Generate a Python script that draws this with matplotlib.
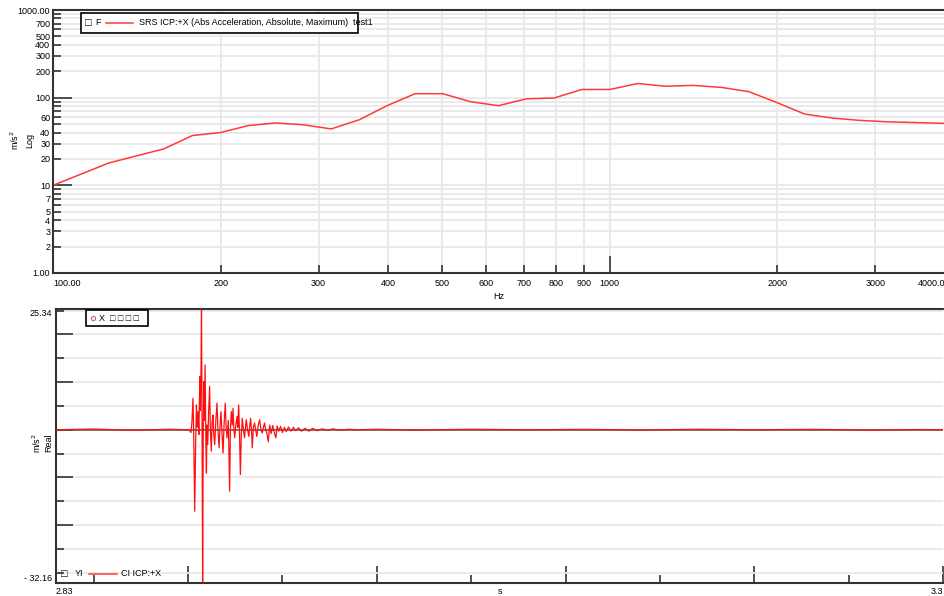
from matplotlib import pyplot as plt
from matplotlib.patches import Rectangle
from matplotlib.lines import Line2D

plt.rcParams['font.family'] = ['Liberation Sans', 'DejaVu Sans']

# SRS spectrum (top)
srs_freq = [100, 126, 158, 178, 200, 224, 251, 282, 316, 355, 398, 447, 501, 562,
            631, 708, 794, 891, 1000, 1122, 1259, 1413, 1585, 1778, 1995, 2239,
            2512, 2818, 3162, 3548, 3981]
srs_val = [10, 18, 26, 37, 40, 48, 51.5, 49, 44, 56, 81, 111, 111, 90,
           81, 97, 99, 124, 124, 145, 135, 138, 131, 117, 88, 65,
           58.5, 55, 53, 52, 51]

y_major = [1, 2, 3, 4, 5, 7, 10, 20, 30, 40, 60, 100, 200, 300, 400, 500, 700, 1000]
y_major_lbl = ['1.00', '2', '3', '4', '5', '7', '10', '20', '30', '40', '60',
               '100', '200', '300', '400', '500', '700', '1000.00']
y_minor = [6, 8, 9, 50, 70, 80, 90, 600, 800, 900]
x_major = [100, 200, 300, 400, 500, 600, 700, 800, 900, 1000, 2000, 3000, 4000]
x_major_lbl = ['100.00', '200', '300', '400', '500', '600', '700', '800', '900',
               '1000', '2000', '3000', '4000.0']

# time signal (bottom)
sig_t = [2.830, 2.850, 2.870, 2.890, 2.9005, 2.9015, 2.9020, 2.9026, 2.9030, 2.9035,
         2.9040, 2.9044, 2.9048, 2.9053, 2.9057, 2.9062, 2.9065, 2.9068, 2.9071, 2.9074,
         2.9077, 2.9080, 2.9083, 2.9086, 2.9090, 2.9094, 2.9097, 2.9100, 2.9104, 2.9109,
         2.9114, 2.9118, 2.9123, 2.9127, 2.9132, 2.9136, 2.9141, 2.9147, 2.9153, 2.9158,
         2.9164, 2.9169, 2.9174, 2.9180, 2.9185, 2.9191, 2.9197, 2.9201, 2.9206, 2.9213,
         2.9220, 2.9224, 2.9229, 2.9234, 2.9238, 2.9242, 2.9247, 2.9253, 2.9259, 2.9263,
         2.9268, 2.9272, 2.9277, 2.9282, 2.9287, 2.9293, 2.9299, 2.9304, 2.9308, 2.9315,
         2.9322, 2.9327, 2.9331, 2.9336, 2.9340, 2.9346, 2.9352, 2.9358, 2.9364, 2.9371,
         2.9379, 2.9386, 2.9393, 2.9399, 2.9405, 2.9411, 2.9417, 2.9425, 2.9432, 2.9440,
         2.9448, 2.9456, 2.9465, 2.9472, 2.9480, 2.9490, 2.9500, 2.9510, 2.9520, 2.9532,
         2.9545, 2.9558, 2.9570, 2.9585, 2.9600, 2.9620, 2.9640, 2.9660, 2.9685, 2.9710,
         2.9740, 2.9770, 2.9800, 2.9850, 2.9900, 3.0000, 3.0200, 3.0500, 3.0800, 3.1100,
         3.1400, 3.1700, 3.2000, 3.2300, 3.2600, 3.2900, 3.3000]
sig_v = [0.0, 0.15, -0.1, 0.1, 0.0, -0.6, 1.5, 6.6, -2.0, -17.1,
         -3.0, 5.2, 0.5, 3.8, -1.0, 11.2, 4.0, 11.5, 25.34, 0.0,
         -32.16, -2.0, 10.1, 2.0, 13.6, -2.0, -9.1, 1.0, -3.1, 4.0,
         9.1, 0.0, -4.5, 1.5, 3.1, -1.0, -3.1, 2.0, 5.6, 0.0,
         -3.8, 0.5, 3.8, -1.0, -4.9, 1.5, 5.6, 1.0, -1.7, 2.0,
         -12.9, 0.0, 3.8, 1.0, 4.5, 0.5, -1.7, 1.0, 2.8, 0.5,
         5.2, 0.0, -9.4, -1.0, 2.4, 0.0, -1.7, 0.5, 2.1, 0.0,
         -1.4, 1.0, 2.4, 0.0, -3.8, 0.5, 1.4, 0.0, -1.4, 0.8,
         2.1, 0.0, -0.7, 0.5, 1.4, 0.0, -0.7, -2.5, 1.0, -0.8,
         0.9, -0.5, -1.7, 0.8, -0.3, 0.7, -0.6, 0.5, -0.4, 0.6,
         -0.3, 0.5, -0.2, 0.4, -0.3, 0.3, -0.3, 0.3, -0.2, 0.2,
         -0.1, 0.2, -0.1, 0.1, 0.0, 0.1, -0.05, 0.1, 0.0, 0.08,
         -0.05, 0.1, 0.0, 0.08, -0.05, 0.05, 0.0]
t_min, t_max = 2.83, 3.3
v_min, v_max = -32.16, 25.34

spine_c = '#333333'
grid_c = '#e8e8e8'
fs = 6.5

fig = plt.figure(figsize=(9.45, 5.96), dpi=100)

# ---------- top: SRS ----------
ax1 = fig.add_axes([53 / 945, 1 - 273 / 596, 892 / 945, 263 / 596])
ax1.plot(srs_freq, srs_val, color='#ff3a3a', lw=1.1)
ax1.set_xscale('log')
ax1.set_yscale('log')
ax1.set_xlim(100, 4000)
ax1.set_ylim(1, 1000)
ax1.set_yticks(y_major)
ax1.set_yticklabels(y_major_lbl)
ax1.set_yticks(y_minor, minor=True)
ax1.set_xticks(x_major)
ax1.set_xticklabels(x_major_lbl)
ax1.set_xticks([], minor=True)
ax1.tick_params(axis='both', which='both', direction='in', length=6, width=1.2,
                color=spine_c, labelsize=fs, pad=2)
ax1.tick_params(axis='x', pad=4)
for tk, v in zip(ax1.yaxis.get_major_ticks(), y_major):
    if v in (10, 100):
        tk.tick1line.set_markersize(14)
for tk, v in zip(ax1.xaxis.get_major_ticks(), x_major):
    if v == 1000:
        tk.tick1line.set_markersize(12)
ax1.xaxis.get_majorticklabels()[0].set_horizontalalignment('left')
ax1.xaxis.get_majorticklabels()[-1].set_horizontalalignment('right')
ax1.grid(which='both', color=grid_c, lw=1.3)
ax1.set_axisbelow(True)
for s in ax1.spines.values():
    s.set_color(spine_c)
    s.set_linewidth(1.5)
ax1.spines['right'].set_visible(False)
ax1.set_xlabel('Hz', fontsize=fs, labelpad=3)

# legend of top chart
ax1.add_patch(Rectangle((0.0314, 0.913), 0.3105, 0.076, transform=ax1.transAxes,
                        fill=True, facecolor='white', edgecolor='black', lw=1.2,
                        clip_on=False, zorder=5))
ax1.text(0.036, 0.951, '\u25a1', transform=ax1.transAxes, fontsize=8,
         va='center', zorder=6)
ax1.text(0.0475, 0.951, 'F', transform=ax1.transAxes, fontsize=fs,
         va='center', zorder=6)
ax1.add_line(Line2D([0.0594, 0.0897], [0.951, 0.951], transform=ax1.transAxes,
                    color='#ff3a3a', lw=1.1, zorder=6))
ax1.text(0.0964, 0.951, 'SRS ICP:+X (Abs Acceleration, Absolute, Maximum)  test1',
         transform=ax1.transAxes, fontsize=fs, va='center', zorder=6)

fig.text(15 / 945, 1 - 140 / 596, 'm/s$^2$', rotation=90, fontsize=fs,
         ha='center', va='center')
fig.text(30 / 945, 1 - 140 / 596, 'Log', rotation=90, fontsize=fs,
         ha='center', va='center')

# ---------- bottom: time signal ----------
ax2 = fig.add_axes([56 / 945, 1 - 583 / 596, 887 / 945, 274 / 596])
ax2.plot(sig_t, sig_v, color='#ff1010', lw=0.9, zorder=3)
ax2.axhline(0, color='#555555', lw=1.1, zorder=2)
ax2.set_xlim(t_min, t_max)
ax2.set_ylim(v_min, v_max)
ax2.set_yticks([-20, -10, 0, 10, 20])
ax2.set_yticks([-30, -25, -15, -5, 5, 15, 25], minor=True)
ax2.set_yticklabels([])
ax2.set_xticks([2.9, 3.0, 3.1, 3.2, 3.3])
ax2.set_xticks([2.85, 2.95, 3.05, 3.15, 3.25], minor=True)
ax2.set_xticklabels([])
ax2.tick_params(axis='both', which='major', direction='in', length=12, width=1.2,
                color=spine_c)
ax2.tick_params(axis='both', which='minor', direction='in', length=6, width=1.2,
                color=spine_c)
ax2.grid(axis='y', which='both', color=grid_c, lw=1.3)
ax2.set_axisbelow(True)
for s in ax2.spines.values():
    s.set_color(spine_c)
    s.set_linewidth(1.5)
ax2.spines['right'].set_visible(False)

ytr = ax2.get_yaxis_transform()
xtr = ax2.get_xaxis_transform()
ax2.text(-0.004, v_max, '25.34', transform=ytr, fontsize=fs, ha='right', va='top')
ax2.text(-0.004, v_min, '- 32.16', transform=ytr, fontsize=fs, ha='right', va='bottom')
ax2.text(t_min, -0.015, '2.83', transform=xtr, fontsize=fs, ha='left', va='top')
ax2.text(t_max, -0.015, '3.3', transform=xtr, fontsize=fs, ha='right', va='top')
ax2.text((t_min + t_max) / 2, -0.015, 's', transform=xtr, fontsize=fs,
         ha='center', va='top')

# legends of bottom chart
ax2.add_patch(Rectangle((0.0338, 0.938), 0.07, 0.058, transform=ax2.transAxes,
                        fill=True, facecolor='white', edgecolor='black', lw=1.2,
                        zorder=5))
ax2.plot([0.0417], [0.967], 'o', transform=ax2.transAxes, ms=3, mfc='none',
         mec='#cc6666', mew=0.8, zorder=6)
ax2.text(0.048, 0.967, 'X  \u25a1 \u25a1 \u25a1 \u25a1', transform=ax2.transAxes,
         fontsize=fs, va='center', zorder=6)
ax2.text(0.006, 0.033, '\u25a1', transform=ax2.transAxes, fontsize=8,
         va='center', zorder=6)
ax2.text(0.0215, 0.033, 'YI', transform=ax2.transAxes, fontsize=fs,
         va='center', zorder=6)
ax2.add_line(Line2D([0.0372, 0.0688], [0.033, 0.033], transform=ax2.transAxes,
                    color='#ff3a3a', lw=1.1, zorder=6))
ax2.text(0.0733, 0.033, 'CI ICP:+X', transform=ax2.transAxes, fontsize=fs,
         va='center', zorder=6)

fig.text(37 / 945, 1 - 443 / 596, 'm/s$^2$', rotation=90, fontsize=fs,
         ha='center', va='center')
fig.text(49 / 945, 1 - 443 / 596, 'Real', rotation=90, fontsize=fs,
         ha='center', va='center')

fig.savefig('out.png', dpi=100)
